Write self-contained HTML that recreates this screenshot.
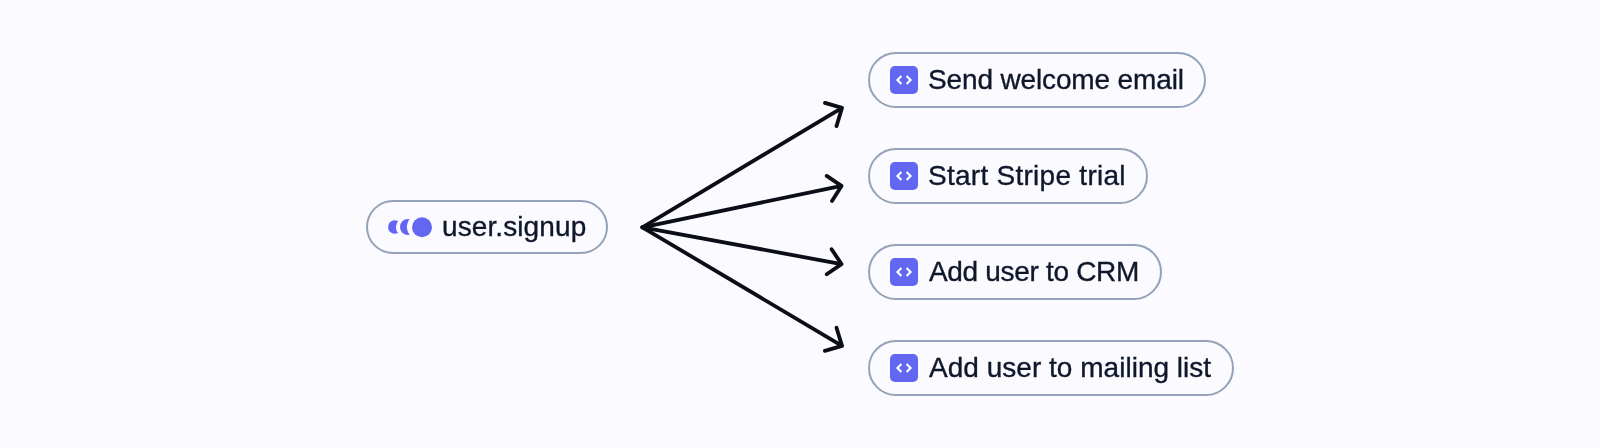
<!DOCTYPE html>
<html><head><meta charset="utf-8">
<style>
html,body{margin:0;padding:0;}
body{width:1600px;height:448px;background:#fafaff;position:relative;overflow:hidden;font-family:"Liberation Sans",sans-serif;}
.pill{position:absolute;box-sizing:border-box;border:2px solid #94a3b8;border-radius:40px;}
.t{position:absolute;white-space:nowrap;color:#0f172a;font-size:28px;line-height:1;will-change:transform;-webkit-text-stroke:0.35px #0f172a;}
.ic{position:absolute;width:28px;height:28px;background:#6366f1;border-radius:5px;}
svg{position:absolute;left:0;top:0;}
</style></head><body>
<div class="pill" style="left:366px;top:200px;width:242px;height:54px;"></div>
<div class="pill" style="left:868px;top:52px;width:338px;height:56px;"></div>
<div class="pill" style="left:868px;top:148px;width:280px;height:56px;"></div>
<div class="pill" style="left:868px;top:244px;width:294px;height:56px;"></div>
<div class="pill" style="left:868px;top:340px;width:366px;height:56px;"></div>

<div class="ic" style="left:890px;top:66px;"></div>
<div class="ic" style="left:890px;top:162px;"></div>
<div class="ic" style="left:890px;top:258px;"></div>
<div class="ic" style="left:890px;top:354px;"></div>

<span class="t" style="left:442px;top:213px;letter-spacing:0.1px;">user.signup</span>
<span class="t" style="left:927.5px;top:66px;letter-spacing:-0.14px;">Send welcome email</span>
<span class="t" style="left:927.5px;top:162px;letter-spacing:0.27px;">Start Stripe trial</span>
<span class="t" style="left:928.5px;top:258px;letter-spacing:-0.32px;">Add user to CRM</span>
<span class="t" style="left:928.5px;top:354px;letter-spacing:0.02px;">Add user to mailing list</span>

<svg width="1600" height="448" viewBox="0 0 1600 448">
 <defs>
  <mask id="m1"><rect x="380" y="200" width="60" height="54" fill="#fff"/><circle cx="418.8" cy="227" r="11.9" fill="#000"/></mask>
  <mask id="m2"><rect x="380" y="200" width="60" height="54" fill="#fff"/><circle cx="405.6" cy="227" r="9.7" fill="#000"/></mask>
  <g id="code"><path d="M11.5 9.9 L7.4 14 L11.5 18.1 M16.5 9.9 L20.6 14 L16.5 18.1" fill="none" stroke="#fff" stroke-width="2.1" stroke-linecap="butt" stroke-linejoin="miter"/></g>
 </defs>
 <circle cx="422" cy="227.2" r="10" fill="#6366f1"/>
 <circle cx="408" cy="227" r="8" fill="#6366f1" mask="url(#m1)"/>
 <circle cx="394.7" cy="227" r="6.65" fill="#6366f1" mask="url(#m2)"/>
 <use href="#code" x="890" y="66"/>
 <use href="#code" x="890" y="162"/>
 <use href="#code" x="890" y="258"/>
 <use href="#code" x="890" y="354"/>
 <g fill="none" stroke="#0b0d17" stroke-width="3.8" stroke-linecap="round" stroke-linejoin="round" transform="translate(0 0.3)">
  <path d="M642.4 227 L842 107.6 M825 102.6 L842 107.6 L836.5 125.8"/>
  <path d="M642.4 227 L841.5 185.6 M826.7 175.6 L841.5 185.6 L832 200.6"/>
  <path d="M642.4 227 L841.5 263.8 M831.6 248.9 L841.5 263.8 L826.7 273.9"/>
  <path d="M642.4 227 L842 345.6 M836.5 327.4 L842 345.6 L824.9 350.6"/>
 </g>
</svg>
</body></html>
